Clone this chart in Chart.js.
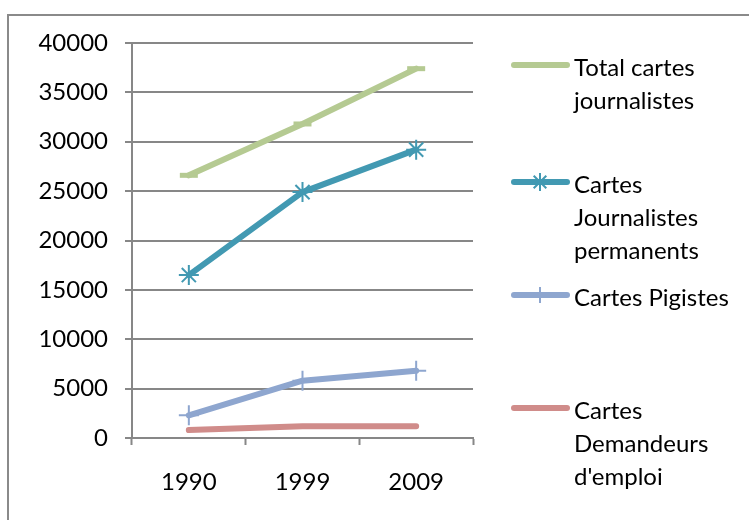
<!DOCTYPE html>
<html>
<head>
<meta charset="utf-8">
<script src="https://cdn.jsdelivr.net/npm/chart.js@4/dist/chart.umd.min.js"></script>
<style>
  html, body { margin: 0; padding: 0; background: #fff; }
  #wrap { width: 749px; height: 520px; position: relative; }
</style>
</head>
<body>
<div id="wrap"><canvas id="chart" width="749" height="520"></canvas></div>
<script>
const years = ['1990', '1999', '2009'];
const totalCartes = [26600, 31800, 37400];
const permanents = [16500, 24900, 29200];
const pigistes = [2300, 5800, 6800];
const demandeurs = [800, 1200, 1200];

const legendLines = [
    ['Total cartes', 'journalistes'],
    ['Cartes', 'Journalistes', 'permanents'],
    ['Cartes Pigistes'],
    ['Cartes', 'Demandeurs', "d'emploi"]
];

const FONT = 'Lato, "Open Sans", sans-serif';
const GRID = '#878787';

const colors = ['#b5ca92', '#4299b2', '#8ea6cf', '#d08c8a'];
const markers = ['line', 'star', 'cross', false];

function makeSet(label, data, i){
    return {
        label: label,
        data: data,
        borderColor: colors[i],
        backgroundColor: colors[i],
        borderWidth: 6,
        borderCapStyle: 'round',
        borderJoinStyle: 'round',
        tension: 0,
        pointStyle: markers[i] || 'circle',
        pointRadius: markers[i] === 'line' ? 9 : (markers[i] ? 10 : 0),
        pointBorderWidth: markers[i] === 'line' ? 5 : 2,
        pointBorderColor: colors[i],
        pointHoverRadius: 0
    };
}

// legend drawn by hand so the labels can wrap like in the original
const sideLegend = {
    id: 'sideLegend',
    beforeDraw(chart){
        const ctx = chart.ctx;
        ctx.save();
        ctx.strokeStyle = '#8a8a8a';
        ctx.lineWidth = 2;
        ctx.strokeRect(8, 15, 800, 600);
        ctx.restore();
    },
    afterDraw(chart){
        const ctx = chart.ctx;
        const rows = [65, 182, 295, 408];
        ctx.save();
        legendLines.forEach((lines, i) => {
            const y = rows[i];
            ctx.strokeStyle = colors[i];
            ctx.lineWidth = 6;
            ctx.lineCap = 'round';
            ctx.beginPath();
            ctx.moveTo(514, y);
            ctx.lineTo(567, y);
            ctx.stroke();

            ctx.lineWidth = 2;
            ctx.lineCap = 'butt';
            if(markers[i] === 'star'){
                const r = 9;
                ctx.beginPath();
                ctx.moveTo(540, y - r); ctx.lineTo(540, y + r);
                ctx.moveTo(540 - r * 0.7, y - r * 0.7); ctx.lineTo(540 + r * 0.7, y + r * 0.7);
                ctx.moveTo(540 - r * 0.7, y + r * 0.7); ctx.lineTo(540 + r * 0.7, y - r * 0.7);
                ctx.stroke();
            } else if(markers[i] === 'cross'){
                ctx.beginPath();
                ctx.moveTo(540, y - 8); ctx.lineTo(540, y + 8);
                ctx.stroke();
            }

            ctx.fillStyle = '#000';
            ctx.font = '24px ' + FONT;
            ctx.textBaseline = 'middle';
            ctx.textAlign = 'left';
            lines.forEach((t, j) => ctx.fillText(t, 574, y + 3 + j * 33));
        });
        ctx.restore();
    }
};

const ctx = document.getElementById('chart').getContext('2d');
const chart = new Chart(ctx, {
    type: 'line',
    data: {
        labels: years,
        datasets: [
            makeSet('Total cartes journalistes', totalCartes, 0),
            makeSet('Cartes Journalistes permanents', permanents, 1),
            makeSet('Cartes Pigistes', pigistes, 2),
            makeSet("Cartes Demandeurs d'emploi", demandeurs, 3)
        ]
    },
    options: {
        responsive: false,
        animation: false,
        layout: { padding: { top: 43, right: 276, bottom: 0, left: 0 } },
        plugins: {
            legend: { display: false },
            tooltip: { enabled: false }
        },
        scales: {
            x: {
                offset: true,
                grid: {
                    offset: true,
                    drawOnChartArea: false,
                    drawTicks: true,
                    tickLength: 7,
                    tickWidth: 2,
                    tickColor: GRID
                },
                border: { color: GRID, width: 2 },
                ticks: { color: '#000', padding: 23, font: { family: FONT, size: 24 } },
                afterFit(scale){ scale.height = 82; }
            },
            y: {
                min: 0,
                max: 40000,
                ticks: {
                    stepSize: 5000,
                    color: '#000',
                    padding: 17,
                    font: { family: FONT, size: 24 },
                    callback: v => String(v)
                },
                grid: { color: GRID, lineWidth: 2, tickLength: 7 },
                border: { color: GRID, width: 2 },
                afterFit(scale){ scale.width = 132; }
            }
        }
    },
    plugins: [sideLegend]
});
</script>
</body>
</html>
